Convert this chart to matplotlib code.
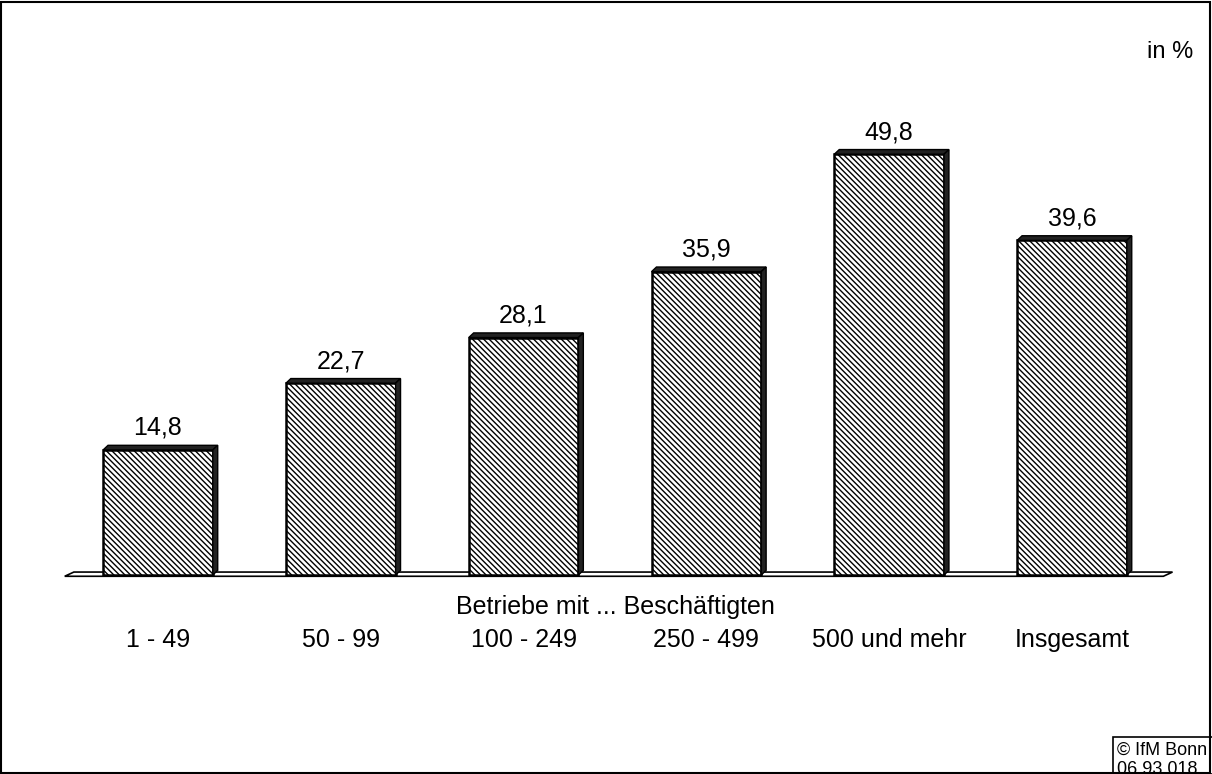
import numpy as np
import matplotlib.pyplot as plt
from matplotlib.patches import Polygon, Rectangle

plt.rcParams['font.family'] = ['Liberation Sans', 'DejaVu Sans']
plt.rcParams['hatch.linewidth'] = 1.0
plt.rcParams['hatch.color'] = '#a8a8a8'

kategorien = ['1 - 49', '50 - 99', '100 - 249', '250 - 499', '500 und mehr', 'Insgesamt']
werte = [14.8, 22.7, 28.1, 35.9, 49.8, 39.6]
labels = ['14,8', '22,7', '28,1', '35,9', '49,8', '39,6']

fig = plt.figure(figsize=(12.12, 7.74), dpi=100)
ax = fig.add_axes([0, 0, 1, 1])
ax.set_xlim(-0.864, 5.766)
ax.set_ylim(-23.55, 68.05)
ax.axis('off')

x = np.arange(len(werte))
bw = 0.6
dx, dy = 0.027, 0.55   # Tiefe für 3D-Effekt

# Boden
floor = Polygon([(-0.51, -0.15), (5.5, -0.15), (5.55, 0.35), (-0.46, 0.35)],
                closed=True, facecolor='white', edgecolor='black', lw=1.2, zorder=1)
ax.add_patch(floor)

ax.bar(x, werte, width=bw, facecolor='white', edgecolor='black', hatch='\\\\\\\\\\\\',
       lw=1.8, zorder=3)
for xi, v in zip(x, werte):
    l, r = xi - bw / 2, xi + bw / 2
    ax.add_patch(Polygon([(l, v), (l + dx, v + dy), (r + dx, v + dy), (r, v)],
                         closed=True, facecolor='#222222', edgecolor='black', lw=1, zorder=4))
    ax.add_patch(Polygon([(r, 0), (r + dx, dy), (r + dx, v + dy), (r, v)],
                         closed=True, facecolor='#222222', edgecolor='black', lw=1, zorder=4))

for xi, v, t in zip(x, werte, labels):
    ax.text(xi, v + 1.2, t, ha='center', va='bottom', fontsize=18)

for xi, k in zip(x, kategorien):
    ax.text(xi, -7.7, k, ha='center', va='center', fontsize=18)

fig.text(615 / 1212, 1 - 607 / 774, 'Betriebe mit ... Beschäftigten', ha='center', va='center', fontsize=18)
fig.text(1170 / 1212, 1 - 52 / 774, 'in %', ha='center', va='center', fontsize=17)

# Rahmen
fig.patches.append(Rectangle((0.001, 0.001), 0.997, 0.997, transform=fig.transFigure,
                             fill=False, edgecolor='black', lw=1.5))
fig.patches.append(Rectangle((1113 / 1212, 0), 0.2, 37 / 774, transform=fig.transFigure,
                             fill=False, edgecolor='black', lw=1.2))
fig.text(1117 / 1212, 1 - 750 / 774, '© IfM Bonn', ha='left', va='center', fontsize=13)
fig.text(1117 / 1212, 1 - 770 / 774, '06 93 018', ha='left', va='center', fontsize=13)

plt.savefig('out.png', dpi=100)
